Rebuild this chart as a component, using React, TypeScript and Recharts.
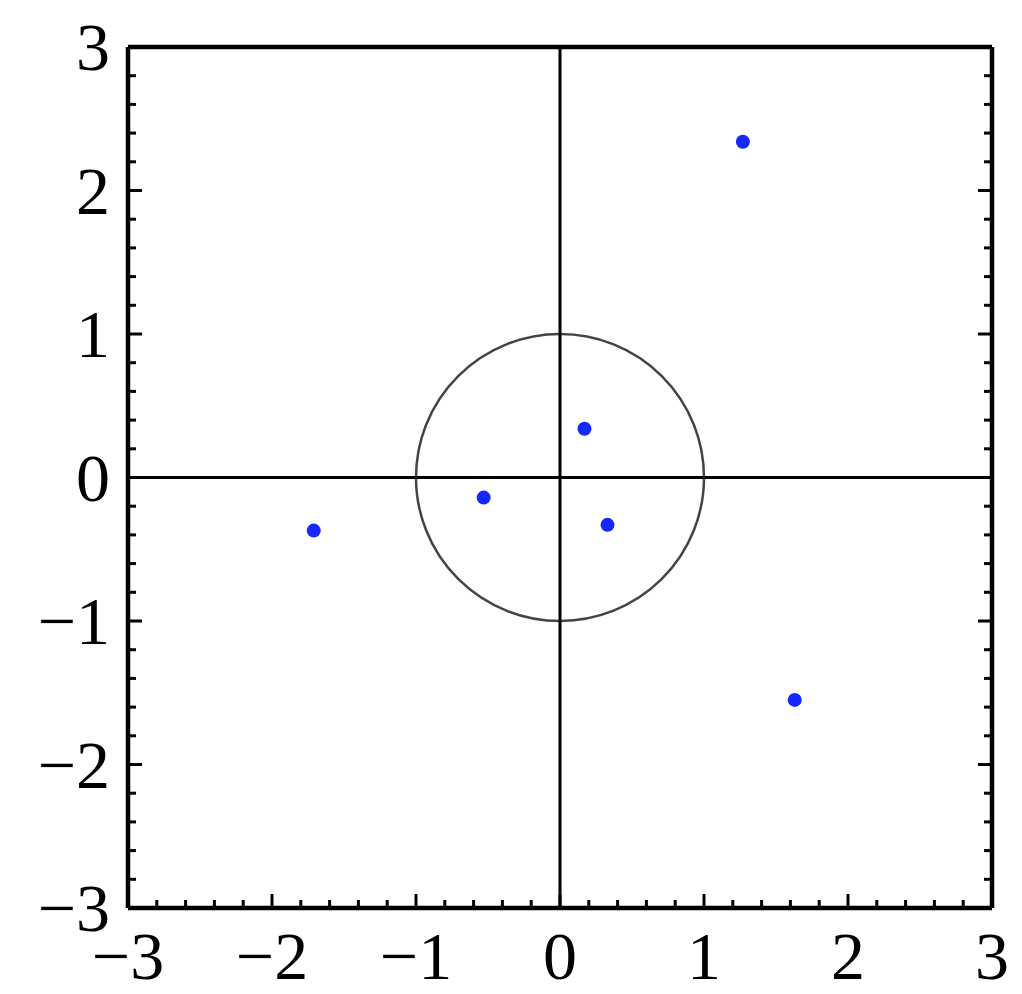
import {
  ScatterChart,
  Scatter,
  XAxis,
  YAxis,
  ReferenceLine,
  ReferenceArea,
} from "recharts";

// points
const xs = [1.27, 0.17, -0.53, 0.33, -1.71, 1.63];
const ys = [2.34, 0.34, -0.14, -0.33, -0.37, -1.55];
const points = xs.map((x, i) => ({ x, y: ys[i] }));

const majorTicks = [-3, -2, -1, 0, 1, 2, 3];
const minorTicks = [
  -2.8, -2.6, -2.4, -2.2, -1.8, -1.6, -1.4, -1.2, -0.8, -0.6, -0.4, -0.2,
  0.2, 0.4, 0.6, 0.8, 1.2, 1.4, 1.6, 1.8, 2.2, 2.4, 2.6, 2.8,
];
const allTicks = [...majorTicks, ...minorTicks];

const FONT = "'Liberation Serif', 'Times New Roman', serif";
const FONT_SIZE = 68;
const MAJOR_LEN = 14;
const MINOR_LEN = 8;

const fmt = (v: number) => (v < 0 ? `\u2212${Math.abs(v)}` : `${v}`);

function SideTick(props: any) {
  const { x, y, payload, side } = props;
  const v = payload.value;
  const major = majorTicks.includes(v);
  const len = major ? MAJOR_LEN : MINOR_LEN;
  let x2 = x;
  let y2 = y;
  if (side === "bottom") y2 = y - len;
  if (side === "top") y2 = y + len;
  if (side === "left") x2 = x + len;
  if (side === "right") x2 = x - len;
  return (
    <g>
      <line x1={x} y1={y} x2={x2} y2={y2} stroke="#000" strokeWidth={3} />
      {major && side === "bottom" && (
        <text x={x} y={y + 71} textAnchor="middle" fontFamily={FONT} fontSize={FONT_SIZE} fill="#000">
          {fmt(v)}
        </text>
      )}
      {major && side === "left" && (
        <text x={x - 18} y={y + 23} textAnchor="end" fontFamily={FONT} fontSize={FONT_SIZE} fill="#000">
          {fmt(v)}
        </text>
      )}
    </g>
  );
}

function UnitCircle(props: any) {
  const { x, y, width, height } = props;
  return (
    <ellipse
      cx={x + width / 2}
      cy={y + height / 2}
      rx={Math.abs(width) / 2}
      ry={Math.abs(height) / 2}
      fill="none"
      stroke="#444"
      strokeWidth={2.5}
    />
  );
}

const frame = { stroke: "#000", strokeWidth: 4.5 };

export default function App() {
  return (
    <div style={{ position: "absolute", left: 0, top: 0 }}>
      <ScatterChart
        width={1022}
        height={994}
        margin={{ top: 47, right: 30, bottom: 0, left: 8 }}
      >
        <XAxis
          xAxisId="b"
          type="number"
          dataKey="x"
          orientation="bottom"
          domain={[-3, 3]}
          ticks={allTicks}
          interval={0}
          height={86}
          tickSize={0}
          tickMargin={0}
          tickLine={false}
          axisLine={frame}
          allowDataOverflow
          tick={<SideTick side="bottom" />}
        />
        <XAxis
          xAxisId="t"
          type="number"
          orientation="top"
          mirror
          domain={[-3, 3]}
          ticks={allTicks}
          interval={0}
          height={1}
          tickSize={0}
          tickMargin={0}
          tickLine={false}
          axisLine={frame}
          allowDataOverflow
          tick={<SideTick side="top" />}
        />
        <YAxis
          yAxisId="l"
          type="number"
          dataKey="y"
          orientation="left"
          domain={[-3, 3]}
          ticks={allTicks}
          interval={0}
          width={120}
          tickSize={0}
          tickMargin={0}
          tickLine={false}
          axisLine={frame}
          allowDataOverflow
          tick={<SideTick side="left" />}
        />
        <YAxis
          yAxisId="r"
          type="number"
          orientation="right"
          mirror
          domain={[-3, 3]}
          ticks={allTicks}
          interval={0}
          width={1}
          tickSize={0}
          tickMargin={0}
          tickLine={false}
          axisLine={frame}
          allowDataOverflow
          tick={<SideTick side="right" />}
        />
        <ReferenceLine xAxisId="b" yAxisId="l" x={0} stroke="#000" strokeWidth={3} />
        <ReferenceLine xAxisId="b" yAxisId="l" y={0} stroke="#000" strokeWidth={3} />
        <ReferenceArea
          xAxisId="b"
          yAxisId="l"
          x1={-1}
          x2={1}
          y1={-1}
          y2={1}
          shape={(p: any) => <UnitCircle {...p} />}
        />
        <Scatter
          xAxisId="b"
          yAxisId="l"
          data={points}
          isAnimationActive={false}
          shape={(p: any) => <circle cx={p.cx} cy={p.cy} r={7} fill="#1428ff" />}
        />
      </ScatterChart>
    </div>
  );
}
